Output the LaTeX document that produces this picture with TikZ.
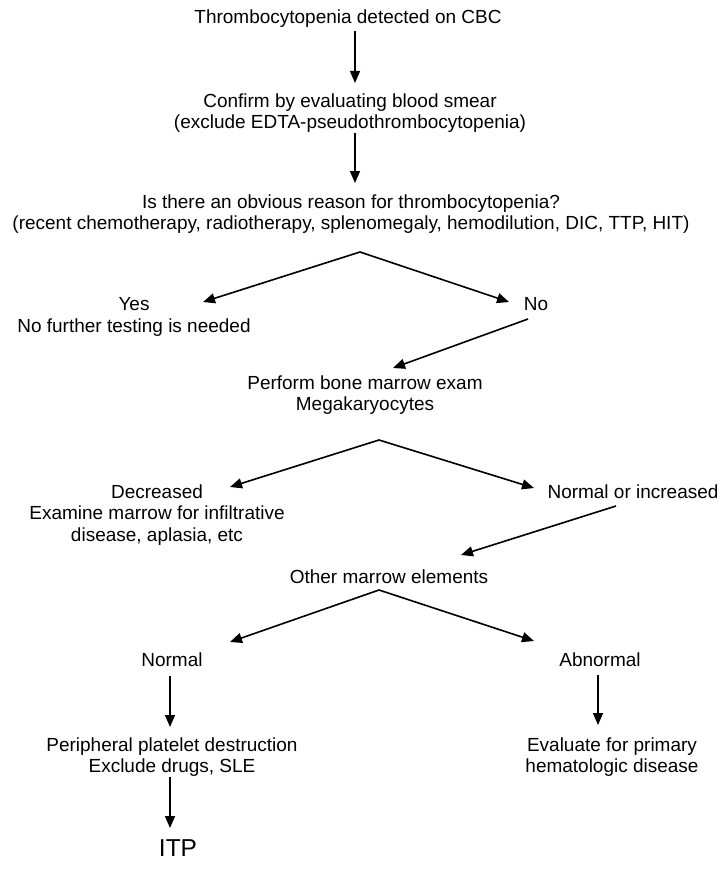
\documentclass[tikz,border=0pt]{standalone}
\usepackage{fontspec}
\setmainfont{Liberation Sans}
\usetikzlibrary{arrows.meta}
\tikzset{flownode/.style={inner sep=0pt, anchor=north, align=center, font=\fontsize{13.5pt}{15.3pt}\selectfont},
  flowarrow/.style={line width=1.15pt, line join=miter},
  >={Triangle[length=0.3cm, width=0.25cm]}}

\begin{document}
\begin{tikzpicture}[x=0.025cm, y=-0.025cm]

\useasboundingbox (0,0) rectangle (722,875);

  % nodes

  \node [style = flownode] (cbc) at (348, 9.2) {Thrombocytopenia detected on CBC};
  \node [style = flownode] (smear) at (350, 93.2) {Confirm by evaluating blood smear\\(exclude EDTA-pseudothrombocytopenia)};
  \node [style = flownode] (reason) at (351, 194.2) {Is there an obvious reason for thrombocytopenia?\\(recent chemotherapy, radiotherapy, splenomegaly, hemodilution, DIC, TTP, HIT)};
  \node [style = flownode] (yes) at (134, 297.4) {Yes\\No further testing is needed};
  \node [style = flownode] (no) at (536, 297.4) {No};
  \node [style = flownode] (marrow) at (365, 375.2) {Perform bone marrow exam\\Megakaryocytes};
  \node [style = flownode] (decr) at (157, 484.2) {Decreased\\Examine marrow for infiltrative\\disease, aplasia, etc};
  \node [style = flownode] (incr) at (633, 484.2) {Normal or increased};
  \node [style = flownode] (other) at (389, 569.2) {Other marrow elements};
  \node [style = flownode] (normal) at (172, 652.4) {Normal};
  \node [style = flownode] (abnormal) at (600, 652.4) {Abnormal};
  \node [style = flownode] (periph) at (172, 737.2) {Peripheral platelet destruction\\Exclude drugs, SLE};
  \node [style = flownode] (primary) at (612, 737.2) {Evaluate for primary\\hematologic disease};
  \node [style = flownode, font=\fontsize{17.4pt}{20pt}\selectfont] (itp) at (178, 839.5) {ITP};

  % arrow ends and forks

  \coordinate (cbcout) at (355, 31);
  \coordinate (smearin) at (355, 83);
  \coordinate (smearout) at (355, 133);
  \coordinate (reasonin) at (355, 183);
  \coordinate (fork1) at (360, 252);
  \coordinate (yesin) at (203, 302);
  \coordinate (noin) at (509, 302);
  \coordinate (noout) at (528, 319);
  \coordinate (marrowin) at (393, 368);
  \coordinate (fork2) at (379, 440);
  \coordinate (decrin) at (230, 487);
  \coordinate (incrin) at (534, 488);
  \coordinate (incrout) at (616, 506);
  \coordinate (otherin) at (461, 555);
  \coordinate (fork3) at (379, 590);
  \coordinate (normalin) at (230, 642);
  \coordinate (abnormalin) at (534, 641);
  \coordinate (normalout) at (170, 676);
  \coordinate (periphin) at (170, 727);
  \coordinate (abnormalout) at (598, 675);
  \coordinate (primaryin) at (598, 725);
  \coordinate (periphout) at (170, 777);
  \coordinate (itpin) at (170, 828);

  %  edges
  \draw [flowarrow, ->] (cbcout) to (smearin);
  \draw [flowarrow, ->] (smearout) to (reasonin);
  \draw [flowarrow, <->] (yesin) -- (fork1) -- (noin);
  \draw [flowarrow, ->] (noout) to (marrowin);
  \draw [flowarrow, <->] (decrin) -- (fork2) -- (incrin);
  \draw [flowarrow, ->] (incrout) to (otherin);
  \draw [flowarrow, <->] (normalin) -- (fork3) -- (abnormalin);
  \draw [flowarrow, ->] (normalout) to (periphin);
  \draw [flowarrow, ->] (abnormalout) to (primaryin);
  \draw [flowarrow, ->] (periphout) to (itpin);

\end{tikzpicture}
\end{document}
